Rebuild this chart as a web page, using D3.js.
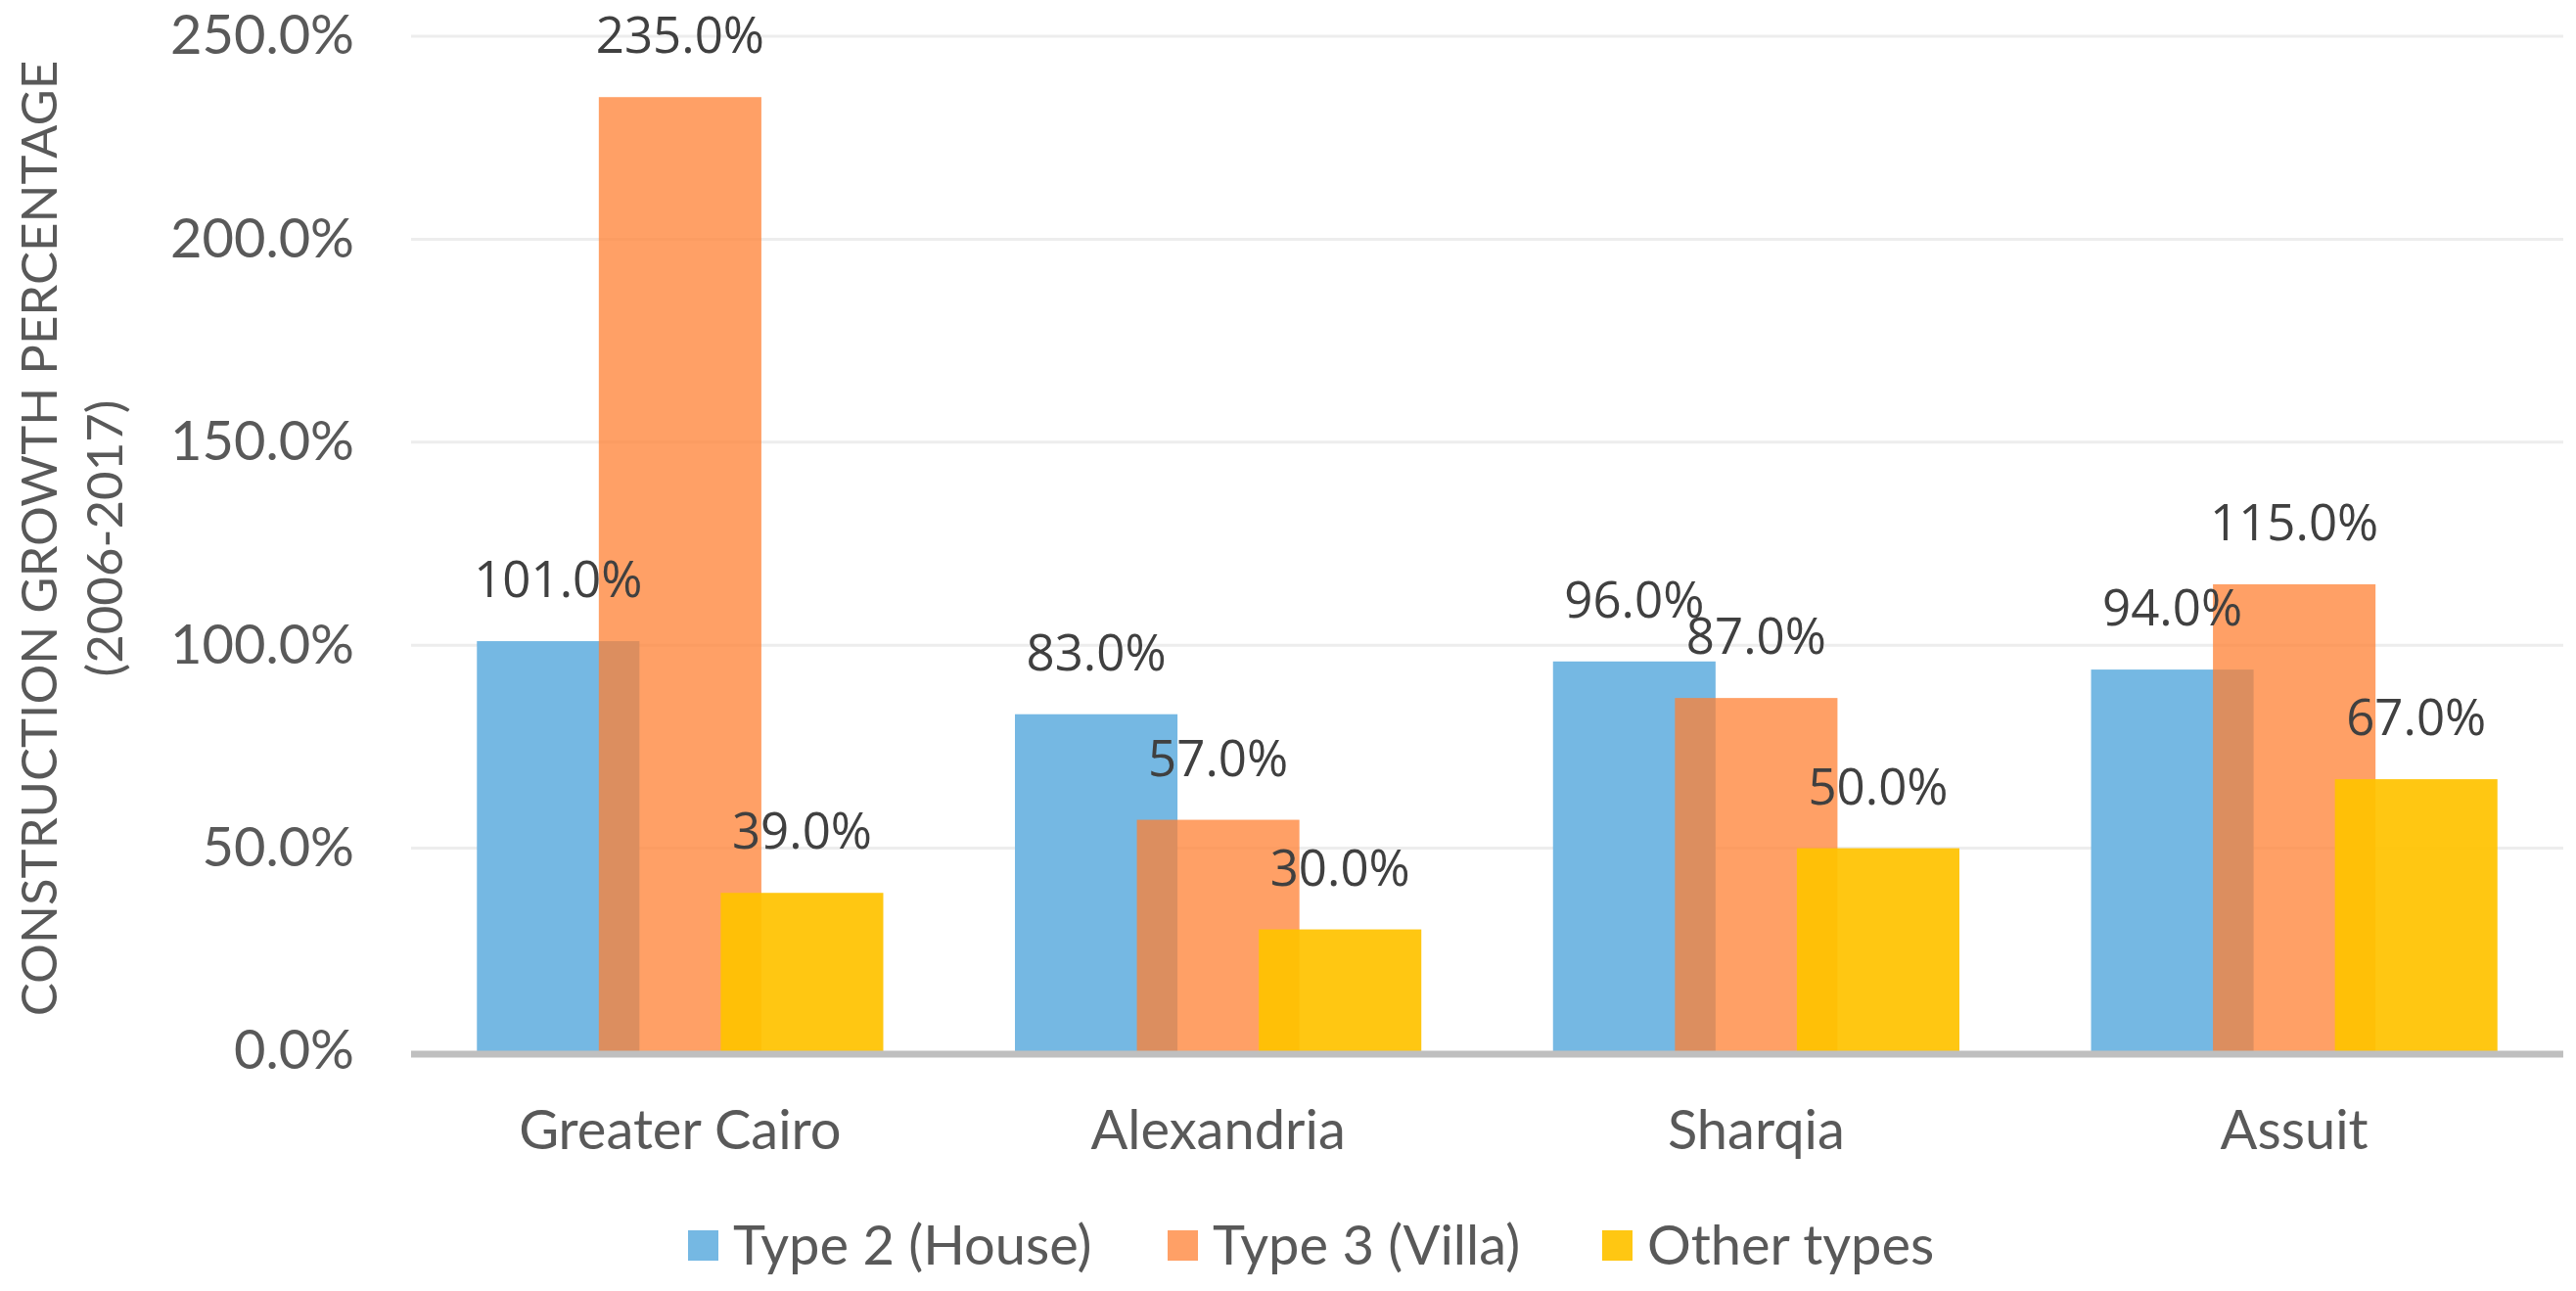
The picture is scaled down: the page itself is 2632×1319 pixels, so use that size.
<!DOCTYPE html>
<html>
<head>
<meta charset="utf-8">
<script src="https://cdn.jsdelivr.net/npm/d3@7"></script>
<style>
  body { margin: 0; background: #fff; }
  svg { display: block; }
</style>
</head>
<body>
<div id="chart"></div>
<script>
var categories = ["Greater Cairo", "Alexandria", "Sharqia", "Assuit"];
var seriesNames = ["Type 2 (House)", "Type 3 (Villa)", "Other types"];
var house = [101, 83, 96, 94];
var villa = [235, 57, 87, 115];
var other = [39, 30, 50, 67];
var yTicks = [0, 50, 100, 150, 200, 250];

var seriesValues = [house, villa, other];
var colors = ["#75B8E3", "#FF8033", "#FFC300"];
var opacities = [1, 0.75, 0.93];

var svgWidth = 2632, svgHeight = 1319;
var plotLeft = 420, plotRight = 2619, plotTop = 37, plotBottom = 1074;
var tickFont = "Lato, 'Open Sans', sans-serif";
var labelFont = "'Open Sans', sans-serif";

var svg = d3.select("#chart").append("svg")
  .attr("width", svgWidth)
  .attr("height", svgHeight);

var x0 = d3.scaleBand().domain(categories).range([plotLeft, plotRight]);
var gapWidth = 0.81, overlap = 0.25;
var barW = x0.bandwidth() / (1 + 2 * (1 - overlap) + gapWidth);
var step = barW * (1 - overlap);
var y = d3.scaleLinear().domain([0, 250]).range([plotBottom, plotTop]);

// gridlines
svg.append("g").selectAll("line")
  .data(yTicks.slice(1))
  .enter().append("line")
  .attr("x1", plotLeft).attr("x2", plotRight)
  .attr("y1", function(d) { return y(d); })
  .attr("y2", function(d) { return y(d); })
  .attr("stroke", "#EDEDED")
  .attr("stroke-width", 3);

// y axis labels
var yAxis = d3.axisLeft(y).tickValues(yTicks)
  .tickFormat(function(d) { return d.toFixed(1) + "%"; })
  .tickSize(0).tickPadding(58);
var yg = svg.append("g").attr("transform", "translate(" + plotLeft + ",0)").call(yAxis);
yg.select(".domain").remove();
yg.selectAll("text")
  .style("font-family", tickFont)
  .style("font-size", "56px")
  .attr("fill", "#595959");

// bars
seriesValues.forEach(function(vals, s) {
  svg.append("g").selectAll("rect")
    .data(vals)
    .enter().append("rect")
    .attr("x", function(d, i) { return x0(categories[i]) + x0.bandwidth() / 2 - barW / 2 + (s - 1) * step; })
    .attr("y", function(d) { return y(d); })
    .attr("width", barW)
    .attr("height", function(d) { return y(0) - y(d); })
    .attr("fill", colors[s])
    .attr("fill-opacity", opacities[s]);
});

// baseline
svg.append("line")
  .attr("x1", plotLeft).attr("x2", plotRight)
  .attr("y1", y(0) + 3).attr("y2", y(0) + 3)
  .attr("stroke", "#BFBFBF")
  .attr("stroke-width", 7);

// x axis labels
var xAxis = d3.axisBottom(x0).tickSize(0).tickPadding(60);
var xg = svg.append("g").attr("transform", "translate(0," + y(0) + ")").call(xAxis);
xg.select(".domain").remove();
xg.selectAll("text")
  .style("font-family", tickFont)
  .style("font-size", "56px")
  .attr("fill", "#595959");

// data labels
seriesValues.forEach(function(vals, s) {
  svg.append("g").selectAll("text")
    .data(vals)
    .enter().append("text")
    .attr("x", function(d, i) { return x0(categories[i]) + x0.bandwidth() / 2 + (s - 1) * step; })
    .attr("y", function(d) { return y(d) - 45; })
    .attr("text-anchor", "middle")
    .style("font-family", labelFont)
    .style("font-size", "51px")
    .attr("fill", "#404040")
    .text(function(d) { return d.toFixed(1) + "%"; });
});

// y axis title
var title = svg.append("text")
  .attr("transform", "translate(58,550) rotate(-90)")
  .attr("text-anchor", "middle")
  .style("font-family", tickFont)
  .style("font-size", "51px")
  .attr("fill", "#595959");
title.append("tspan").attr("x", 0).attr("dy", 0).text("CONSTRUCTION GROWTH PERCENTAGE");
title.append("tspan").attr("x", 0).attr("dy", 67).text("(2006-2017)");

// legend
var legendX = [703, 1193, 1637];
var legend = svg.append("g");
seriesNames.forEach(function(name, s) {
  legend.append("rect")
    .attr("x", legendX[s]).attr("y", 1257)
    .attr("width", 31).attr("height", 31)
    .attr("fill", colors[s])
    .attr("fill-opacity", opacities[s]);
  legend.append("text")
    .attr("x", legendX[s] + 46).attr("y", 1292)
    .style("font-family", tickFont)
    .style("font-size", "56px")
    .attr("fill", "#595959")
    .text(name);
});
</script>
</body>
</html>
